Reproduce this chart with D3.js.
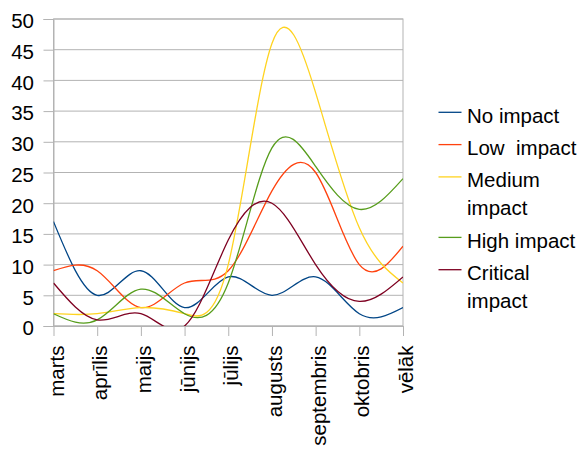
<!DOCTYPE html>
<html>
<head>
<meta charset="utf-8">
<script src="https://cdn.jsdelivr.net/npm/d3@7"></script>
<style>
  html, body { margin: 0; padding: 0; background: #fff; }
  svg { display: block; font-family: "Liberation Sans", Arial, sans-serif; }
</style>
</head>
<body>
<svg id="chart" width="579" height="450"></svg>
<script>
// Month categories along the x axis
const categories = ["marts", "aprīlis", "maijs", "jūnijs", "jūlijs", "augusts", "septembris", "oktobris", "vēlāk"];

// Counts per impact level
const noImpact       = [17, 5, 9, 3, 8, 5, 8, 2, 3];
const lowImpact      = [9, 9, 3, 7, 9, 22, 25, 10, 13];
const mediumImpact   = [2, 2, 3, 2, 10, 46, 38, 16, 7];
const highImpact     = [2, 1, 6, 2, 7, 29, 26, 19, 24];
const criticalImpact = [7, 1, 2, 0, 14, 20, 10, 4, 8];

// Legend labels (wrapped lines) and y-axis ticks
const seriesNames = [["No impact"], ["Low  impact"], ["Medium", "impact"], ["High impact"], ["Critical", "impact"]];
const yTicks = [0, 5, 10, 15, 20, 25, 30, 35, 40, 45, 50];

const seriesValues = [noImpact, lowImpact, mediumImpact, highImpact, criticalImpact];
const colors = ["#004586", "#ff420e", "#ffd320", "#579d1c", "#7e0021"];

const svg = d3.select("#chart");
const plot = { left: 53.5, right: 403, top: 19, bottom: 326 };
const fontSize = 20.5;
const gridColor = "#b3b3b3";

const x = d3.scalePoint().domain(categories).range([plot.left, plot.right]);
const y = d3.scaleLinear().domain([0, 50]).range([plot.bottom, plot.top]);

// Horizontal grid lines
svg.append("g")
  .selectAll("line")
  .data(yTicks)
  .join("line")
  .attr("x1", plot.left).attr("x2", plot.right)
  .attr("y1", d => y(d)).attr("y2", d => y(d))
  .attr("stroke", gridColor).attr("stroke-width", 1);

// Plot area frame
svg.append("rect")
  .attr("x", plot.left).attr("y", plot.top)
  .attr("width", plot.right - plot.left).attr("height", plot.bottom - plot.top)
  .attr("fill", "none").attr("stroke", gridColor).attr("stroke-width", 1);

// Y axis
const yAxis = svg.append("g")
  .attr("transform", `translate(${plot.left},0)`)
  .call(d3.axisLeft(y).tickValues(yTicks).tickSize(10).tickPadding(9.5));
yAxis.select(".domain").attr("stroke", gridColor);
yAxis.selectAll(".tick line").attr("stroke", gridColor);
yAxis.selectAll(".tick text")
  .attr("fill", "#000").attr("font-size", fontSize)
  .attr("font-family", "Liberation Sans, Arial, sans-serif")
  .attr("dy", "0.43em");

// X axis
const xAxis = svg.append("g")
  .attr("transform", `translate(0,${plot.bottom})`)
  .call(d3.axisBottom(x).tickSize(10).tickSizeOuter(0));
xAxis.select(".domain").attr("stroke", gridColor);
xAxis.selectAll(".tick line").attr("stroke", gridColor);
xAxis.selectAll(".tick text")
  .attr("fill", "#000").attr("font-size", fontSize)
  .attr("font-family", "Liberation Sans, Arial, sans-serif")
  .attr("text-anchor", "end")
  .attr("dy", null)
  .attr("y", 0)
  .attr("transform", "translate(9.5,19.5) rotate(-90)");

// Clip the curves to the plot area
svg.append("clipPath").attr("id", "plot-clip")
  .append("rect")
  .attr("x", plot.left).attr("y", plot.top)
  .attr("width", plot.right - plot.left).attr("height", plot.bottom - plot.top);

const line = d3.line()
  .x((d, i) => x(categories[i]))
  .y(d => y(d))
  .curve(d3.curveNatural);

svg.append("g")
  .attr("clip-path", "url(#plot-clip)")
  .selectAll("path")
  .data(seriesValues)
  .join("path")
  .attr("d", d => line(d))
  .attr("fill", "none")
  .attr("stroke", (d, i) => colors[i])
  .attr("stroke-width", 1.3);

// Legend
const legend = svg.append("g");
let ly = 112.3;
seriesNames.forEach((lines, i) => {
  legend.append("line")
    .attr("x1", 438.5).attr("x2", 461.5)
    .attr("y1", ly).attr("y2", ly)
    .attr("stroke", colors[i]).attr("stroke-width", 1.3);
  const t = legend.append("text")
    .attr("x", 467).attr("y", ly + 10.4)
    .attr("font-size", fontSize).attr("fill", "#000")
    .style("white-space", "pre");
  lines.forEach((s, j) => {
    t.append("tspan").attr("x", 467).attr("dy", j === 0 ? 0 : 28).text(s);
  });
  ly += 32.3 + (lines.length - 1) * 28.2;
});
</script>
</body>
</html>
